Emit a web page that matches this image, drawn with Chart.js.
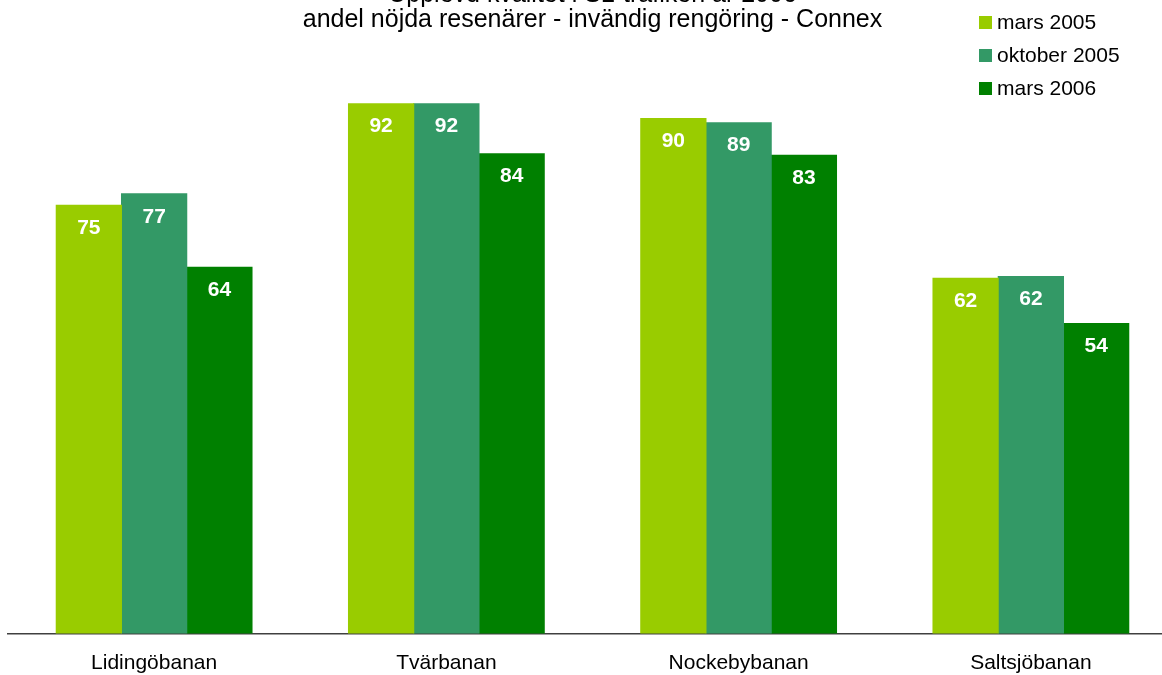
<!DOCTYPE html>
<html lang="sv">

<head>
    <meta charset="UTF-8">
    <title>Upplevd kvalitet - Connex</title>
    <script src="https://cdn.jsdelivr.net/npm/chart.js"></script>
    <style>
        body { margin: 0; background: #fff; }
        .wrap { width: 1162px; height: 675px; overflow: hidden; position: relative; }
        #myChart { position: absolute; left: 0; top: -17px; }
    </style>
</head>

<body>
    <div class="wrap">
        <canvas id="myChart" width="1182" height="720"></canvas>
    </div>

<script>
    // data
    const banor = ['Lidingöbanan', 'Tvärbanan', 'Nockebybanan', 'Saltsjöbanan'];
    const mars2005 = [74.6, 92.3, 89.7, 61.9];
    const oktober2005 = [76.6, 92.3, 89.0, 62.2];
    const mars2006 = [63.8, 83.6, 83.3, 54.0];
    const serieNamn = ['mars 2005', 'oktober 2005', 'mars 2006'];
    const rubrik = ['Upplevd kvalitet i SL-trafiken år 2006', 'andel nöjda resenärer - invändig rengöring - Connex'];

    const farger = ['#99CC00', '#339966', '#008000'];
    const typsnitt = 'Arial, "Liberation Sans", sans-serif';

    // vita siffror inne i staplarna
    const stapelEtiketter = {
        id: 'stapelEtiketter',
        afterDatasetsDraw(chart) {
            const ctx = chart.ctx;
            ctx.save();
            ctx.fillStyle = '#ffffff';
            ctx.font = 'bold 21px ' + typsnitt;
            ctx.textAlign = 'center';
            ctx.textBaseline = 'middle';
            chart.data.datasets.forEach(function (ds, i) {
                chart.getDatasetMeta(i).data.forEach(function (bar, j) {
                    ctx.fillText(Math.round(ds.data[j]), bar.x, bar.y + 23);
                });
            });
            ctx.restore();
        }
    };

    // legend uppe till höger, lodrät
    const egenLegend = {
        id: 'egenLegend',
        afterDraw(chart) {
            const ctx = chart.ctx;
            ctx.save();
            ctx.font = '21px ' + typsnitt;
            ctx.textBaseline = 'middle';
            ctx.textAlign = 'left';
            chart.data.datasets.forEach(function (ds, i) {
                const y = 39.5 + i * 33;
                ctx.fillStyle = ds.backgroundColor;
                ctx.fillRect(979, y - 6.5, 13, 13);
                ctx.fillStyle = '#000000';
                ctx.fillText(ds.label, 997, y + 1);
            });
            ctx.restore();
        }
    };

    const ctx1 = document.getElementById('myChart').getContext('2d');
    const myChart = new Chart(ctx1, {
        type: 'bar',
        data: {
            labels: banor,
            datasets: [
                { label: serieNamn[0], data: mars2005, backgroundColor: farger[0] },
                { label: serieNamn[1], data: oktober2005, backgroundColor: farger[1] },
                { label: serieNamn[2], data: mars2006, backgroundColor: farger[2] }
            ]
        },
        options: {
            responsive: false,
            devicePixelRatio: 1,
            animation: false,
            layout: { padding: { left: 8, right: 5, top: 0, bottom: 27.5 } },
            datasets: {
                bar: { barPercentage: 1, categoryPercentage: 0.67, borderWidth: 0, inflateAmount: 0.5 }
            },
            plugins: {
                legend: { display: false },
                tooltip: { enabled: false },
                title: {
                    display: true,
                    text: rubrik,
                    color: '#000000',
                    font: { family: typsnitt, size: 25, weight: 'normal', lineHeight: 25 / 25 },
                    padding: { top: 0, bottom: 26.5 }
                }
            },
            scales: {
                x: {
                    grid: { display: false, drawTicks: false },
                    border: { display: true, color: '#404040', width: 1.5 },
                    ticks: { color: '#000000', font: { family: typsnitt, size: 21 }, padding: 17 },
                    afterFit(scale) { scale.height = 42; }
                },
                y: {
                    display: false,
                    min: 0,
                    max: 100
                }
            }
        },
        plugins: [stapelEtiketter, egenLegend]
    });
</script>
</body>

</html>
